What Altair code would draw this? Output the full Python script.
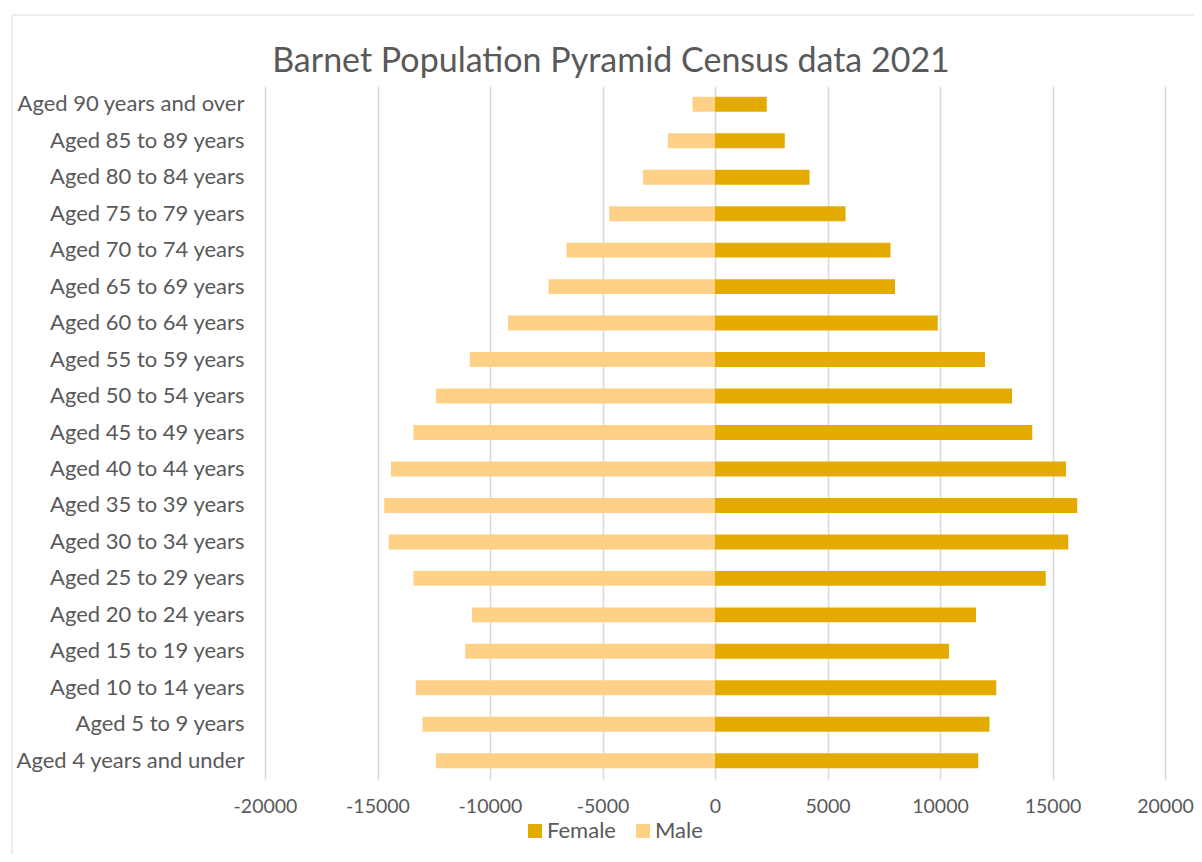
import altair as alt
import pandas as pd

ages = [
    "Aged 90 years and over", "Aged 85 to 89 years", "Aged 80 to 84 years",
    "Aged 75 to 79 years", "Aged 70 to 74 years", "Aged 65 to 69 years",
    "Aged 60 to 64 years", "Aged 55 to 59 years", "Aged 50 to 54 years",
    "Aged 45 to 49 years", "Aged 40 to 44 years", "Aged 35 to 39 years",
    "Aged 30 to 34 years", "Aged 25 to 29 years", "Aged 20 to 24 years",
    "Aged 15 to 19 years", "Aged 10 to 14 years", "Aged 5 to 9 years",
    "Aged 4 years and under",
]
female = [2300, 3100, 4200, 5800, 7800, 8000, 9900, 12000, 13200, 14100,
          15600, 16100, 15700, 14700, 11600, 10400, 12500, 12200, 11700]
male = [-1000, -2100, -3200, -4700, -6600, -7400, -9200, -10900, -12400, -13400,
        -14400, -14700, -14500, -13400, -10800, -11100, -13300, -13000, -12400]
x_ticks = [-20000, -15000, -10000, -5000, 0, 5000, 10000, 15000, 20000]
series = ["Female", "Male"]
colors = ["#E3AB00", "#FED186"]
title_text = "Barnet Population Pyramid Census data 2021"

rows = []
for a, f, m in zip(ages, female, male):
    rows.append({"age": a, "sex": "Female", "value": f})
    rows.append({"age": a, "sex": "Male", "value": m})
df = pd.DataFrame(rows)

FONT = "Lato"
GREY = "#595959"

bars = alt.Chart(df).mark_bar().encode(
    y=alt.Y("age:N", sort=ages,
            scale=alt.Scale(paddingInner=0.59, paddingOuter=0.295),
            axis=alt.Axis(title=None, ticks=False, domain=False, grid=False,
                          labelFontSize=22, labelColor=GREY, labelFont=FONT,
                          labelPadding=21, labelLimit=0)),
    x=alt.X("value:Q",
            scale=alt.Scale(domain=[-20000, 20000], nice=False, zero=False),
            axis=alt.Axis(title=None, values=x_ticks, ticks=False,
                          labelExpr="'' + datum.value", labelFlush=False,
                          labelOverlap=False,
                          domain=False, grid=True, gridColor="#d9d9d9",
                          gridWidth=1.5, labelFontSize=19.5, labelColor=GREY,
                          labelFont=FONT, labelPadding=18)),
    color=alt.Color("sex:N", sort=series,
                    scale=alt.Scale(domain=series, range=colors),
                    legend=alt.Legend(title=None, orient="none", direction="horizontal",
                                      legendX=259, legendY=734,
                                      symbolType="square", symbolSize=196,
                                      symbolStrokeWidth=0,
                                      labelFontSize=22, labelColor=GREY,
                                      labelFont=FONT, columnPadding=16,
                                      labelOffset=1)),
)

one = pd.DataFrame({"t": [title_text]})

border = alt.Chart(one).mark_rect(
    fill=None, stroke="#d9d9d9", strokeWidth=1
).encode(
    x=alt.value(-253), x2=alt.value(960),
    y=alt.value(-71), y2=alt.value(800),
)

title = alt.Chart(one).mark_text(
    font=FONT, fontSize=34, color=GREY, align="center", baseline="alphabetic"
).encode(
    text="t:N", x=alt.value(346), y=alt.value(-14),
)

chart = alt.layer(border, title, bars).properties(
    width=900, height=693,
    padding={"left": 257, "top": 78, "right": 29, "bottom": 75},
    autosize=alt.AutoSizeParams(type="none"),
).configure_view(stroke=None)

chart.save("out.html", embed_options={"renderer": "svg", "actions": False})
